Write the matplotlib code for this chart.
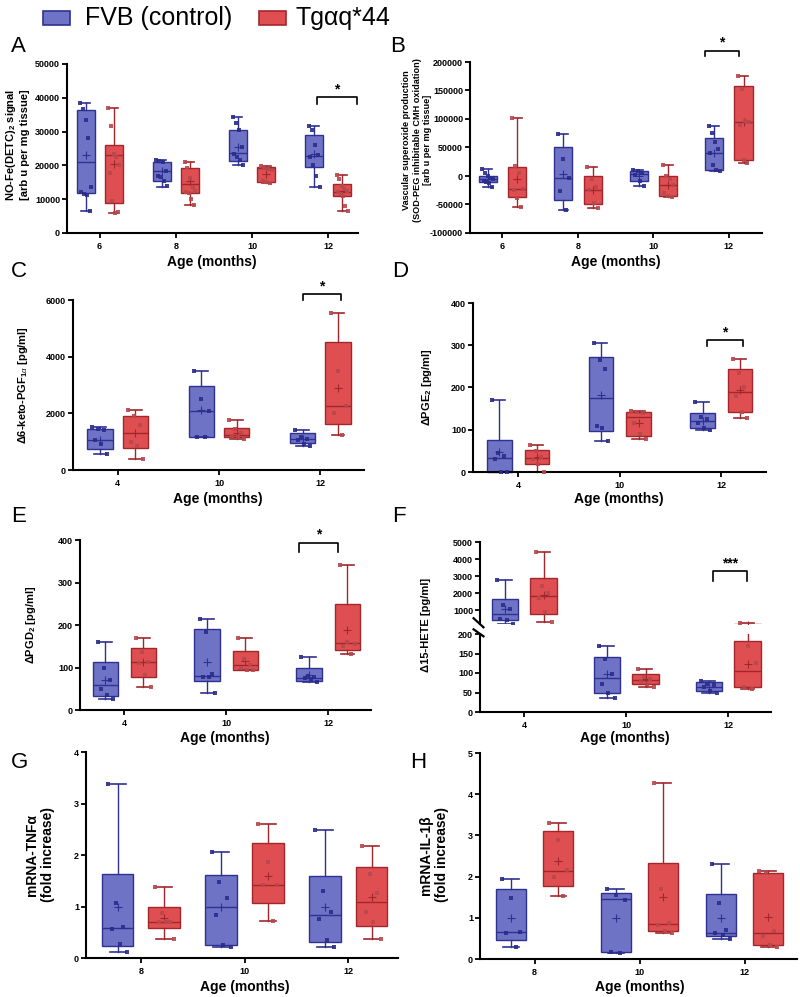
import numpy as np
import matplotlib
matplotlib.use('Agg')
import matplotlib.pyplot as plt
from matplotlib.patches import Rectangle

plt.rcParams['font.family'] = ['Liberation Sans', 'DejaVu Sans']
plt.rcParams['mathtext.fontset'] = 'custom'
plt.rcParams['mathtext.rm'] = 'Liberation Sans:bold'
plt.rcParams['mathtext.bf'] = 'Liberation Sans:bold'
plt.rcParams['mathtext.it'] = 'Liberation Sans:italic'

W, H = 800, 997

series = ['FVB (control)', 'Tgαq*44']
ages_AB = ['6', '8', '10', '12']
ages_CF = ['4', '10', '12']
ages_GH = ['8', '10', '12']

# box stats: [whislo, q1, median, q3, whishi, mean]
A_ctrl_box = [[6500, 11700, 21000, 36300, 38500, 23000], [13600, 15300, 18300, 21000, 21500, 18300],
              [20000, 21300, 23800, 30500, 34300, 25500], [13600, 19400, 22800, 29100, 31800, 23300]]
A_tg_box = [[6000, 8800, 23000, 26000, 37000, 20300], [8300, 11800, 14500, 19300, 21000, 15500],
            [14700, 15000, 19200, 19500, 19700, 17500], [6500, 11000, 12000, 14600, 17300, 12500]]
A_ctrl_pts = [[38500, 36800, 33500, 28000, 13700, 12000, 11500, 11300, 6500],
              [21500, 21300, 20900, 18200, 17000, 16500, 15500, 13800],
              [34300, 32500, 30500, 25500, 23500, 22500, 21500, 20000],
              [31800, 30500, 26000, 23000, 22500, 20000, 17000, 13600]]
A_tg_pts = [[37000, 31800, 23500, 22500, 20000, 17800, 9500, 6000, 6200],
            [21000, 19300, 16300, 13500, 12500, 12000, 11800, 10000, 8300],
            [19700, 19300, 19000, 18500, 15300, 15000, 14800],
            [17300, 16000, 14000, 13000, 12500, 12000, 11500, 11000, 8000, 6500]]

B_ctrl_box = [[-20000, -10000, -5000, 0, 12000, -5000], [-59000, -42000, -4000, 51000, 73000, 3000],
              [-18000, -9000, 3000, 8000, 11000, 0], [8000, 10000, 40000, 67000, 87000, 40000]]
B_tg_box = [[-55000, -37000, -22000, 16000, 102000, -5000], [-57000, -50000, -25000, 0, 15000, -25000],
            [-37000, -35000, -16000, 0, 19000, -15000], [23000, 28000, 95000, 158000, 175000, 95000]]
B_ctrl_pts = [[12000, 5000, 0, -3000, -5000, -8000, -10000, -12000, -20000],
              [73000, 30000, -4000, -27000, -59000],
              [11000, 8000, 5000, 2000, -8000, -18000],
              [87000, 75000, 60000, 47000, 40000, 20000, 10000, 8000]]
B_tg_pts = [[102000, 18000, 5000, -22000, -25000, -38000, -55000],
            [15000, -5000, -20000, -25000, -48000, -57000],
            [19000, 0, -5000, -16000, -30000, -35000, -37000],
            [175000, 153000, 97000, 95000, 90000, 28000, 23000]]

C_ctrl_box = [[560, 750, 1070, 1450, 1500, 1050], [1150, 1180, 2080, 2980, 3500, 2100], [850, 950, 1100, 1300, 1420, 1100]]
C_tg_box = [[380, 770, 1300, 1920, 2100, 1300], [1100, 1150, 1250, 1480, 1750, 1300], [1220, 1620, 2250, 4520, 5550, 2900]]
C_ctrl_pts = [[1500, 1450, 1400, 1050, 900, 560], [3500, 2500, 2080, 1180, 1150], [1420, 1150, 1100, 1050, 900, 850]]
C_tg_pts = [[2100, 1900, 1600, 1000, 850, 380], [1750, 1450, 1300, 1200, 1150, 1100], [5550, 3500, 2250, 2000, 1220]]

D_ctrl_box = [[0, 0, 33, 75, 170, 47], [73, 97, 176, 273, 305, 183], [100, 103, 121, 139, 166, 120]]
D_tg_box = [[0, 20, 33, 53, 65, 35], [77, 85, 130, 143, 145, 117], [127, 141, 190, 243, 268, 195]]
D_ctrl_pts = [[170, 45, 38, 30, 0, 0], [305, 265, 243, 110, 103, 73], [166, 130, 125, 115, 103, 100]]
D_tg_pts = [[65, 50, 35, 30, 20, 0], [145, 142, 140, 115, 90, 77], [268, 235, 200, 180, 141, 127]]

E_ctrl_box = [[25, 32, 58, 113, 160, 70], [40, 68, 79, 190, 215, 113], [65, 68, 75, 100, 124, 82]]
E_tg_box = [[55, 77, 113, 145, 170, 113], [93, 95, 105, 140, 170, 115], [132, 142, 158, 250, 342, 188]]
E_ctrl_pts = [[160, 100, 70, 50, 35, 25], [215, 183, 85, 77, 77, 40], [124, 80, 77, 75, 73, 65]]
E_tg_pts = [[170, 137, 113, 110, 82, 55], [170, 120, 105, 100, 95, 93], [342, 160, 155, 150, 132]]

F_ctrl_box = [[220, 450, 800, 1650, 2800, 1100], [36, 50, 87, 142, 168, 98], [48, 55, 65, 76, 80, 65]]
F_tg_box = [[300, 780, 1830, 2880, 4400, 1900], [65, 72, 82, 98, 110, 85], [58, 63, 105, 182, 250, 122]]
F_ctrl_pts = [[2800, 1300, 1050, 500, 450, 220], [168, 135, 98, 72, 50, 36], [80, 72, 70, 65, 55, 48]]
F_tg_pts = [[4400, 2400, 2000, 1700, 900, 300], [110, 90, 85, 80, 72, 65], [250, 170, 125, 63, 58]]

G_ctrl_box = [[0.12, 0.24, 0.58, 1.63, 3.37, 1.0], [0.21, 0.25, 1.0, 1.61, 2.06, 1.0], [0.21, 0.32, 0.83, 1.6, 2.48, 1.0]]
G_tg_box = [[0.37, 0.58, 0.70, 0.99, 1.38, 0.77], [0.71, 1.06, 1.41, 2.23, 2.6, 1.6], [0.37, 0.63, 1.09, 1.76, 2.17, 1.18]]
G_ctrl_pts = [[3.37, 1.06, 0.6, 0.57, 0.27, 0.12], [2.06, 1.47, 1.16, 0.84, 0.26, 0.21], [2.48, 1.31, 0.9, 0.76, 0.35, 0.21]]
G_tg_pts = [[1.38, 0.87, 0.7, 0.7, 0.7, 0.37], [2.6, 1.87, 1.41, 1.41, 0.71], [2.17, 1.64, 1.26, 0.9, 0.7, 0.37]]

H_ctrl_box = [[0.29, 0.47, 0.65, 1.7, 1.93, 1.0], [0.15, 0.17, 1.45, 1.61, 1.69, 1.0], [0.49, 0.55, 0.63, 1.58, 2.3, 1.0]]
H_tg_box = [[1.54, 1.78, 2.14, 3.1, 3.31, 2.37], [0.63, 0.68, 0.86, 2.33, 4.26, 1.5], [0.29, 0.33, 0.63, 2.09, 2.14, 1.02]]
H_ctrl_pts = [[1.93, 1.49, 0.65, 0.63, 0.29], [1.69, 1.55, 1.44, 0.18, 0.15], [2.3, 1.35, 0.7, 0.63, 0.58, 0.49]]
H_tg_pts = [[3.31, 2.9, 2.15, 2.0, 1.54], [4.26, 1.7, 0.88, 0.83, 0.68, 0.63], [2.14, 2.08, 0.68, 0.55, 0.35, 0.29]]

# ---------- styling ----------
BLUE_FACE, BLUE_EDGE, BLUE_PT = '#6f73c6', '#2f3192', '#2a2c8c'
RED_FACE, RED_EDGE, RED_PT = '#df4f52', '#a2272c', '#b7484c'

fig = plt.figure(figsize=(W / 100, H / 100), dpi=100)


def add_ax(x0, x1, ytop, ybot):
    return fig.add_axes([x0 / W, 1 - ybot / H, (x1 - x0) / W, (ybot - ytop) / H])


def draw_boxes(ax, ctrl_box, tg_box, ctrl_pts, tg_pts, off, w, clip=False, lo=None, hi=None):
    n = len(ctrl_box)
    for boxes, pts, sgn, face, edge, ptc in [(ctrl_box, ctrl_pts, -1, BLUE_FACE, BLUE_EDGE, BLUE_PT),
                                             (tg_box, tg_pts, 1, RED_FACE, RED_EDGE, RED_PT)]:
        keep = [i for i in range(n)
                if (lo is None or boxes[i][4] >= lo) and (hi is None or boxes[i][0] <= hi)]
        if not keep:
            continue
        stats = [dict(whislo=boxes[i][0], q1=boxes[i][1], med=boxes[i][2], q3=boxes[i][3],
                      whishi=boxes[i][4], mean=boxes[i][5], fliers=[]) for i in keep]
        pos = [i + sgn * off for i in keep]
        art = ax.bxp(stats, positions=pos, widths=w, capwidths=w * 0.5, patch_artist=True,
                     showmeans=True, showfliers=False, manage_ticks=False,
                     boxprops=dict(facecolor=face, edgecolor=edge, linewidth=1.0),
                     medianprops=dict(color=edge, linewidth=1.0),
                     whiskerprops=dict(color=edge, linewidth=1.0),
                     capprops=dict(color=edge, linewidth=1.2),
                     meanprops=dict(marker='+', markeredgecolor=edge, markersize=6, markeredgewidth=0.8))
        for key in art:
            for a in art[key]:
                a.set_clip_on(clip)
        for j, i in enumerate(keep):
            p = pts[i]
            k = len(p)
            base = np.linspace(-0.3, 0.3, k) * w
            idx = list(range(0, k, 2)) + list(range(1, k, 2))
            xs = pos[j] + base[idx]
            sel = [m for m in range(k) if (lo is None or p[m] >= lo) and (hi is None or p[m] <= hi)]
            ax.plot(xs[sel], np.array(p)[sel], 's', color=ptc, ms=3.3, alpha=0.9, zorder=4,
                    clip_on=clip, markeredgewidth=0)


def style(ax, xlim, ylim, yticks, xlabels, show_x=True):
    for s in ['top', 'right']:
        ax.spines[s].set_visible(False)
    for s in ['left', 'bottom']:
        ax.spines[s].set_linewidth(1.5)
    ax.set_xlim(*xlim)
    ax.set_ylim(*ylim)
    ax.set_yticks(yticks)
    ax.set_yticklabels([str(t) for t in yticks], fontweight='bold', fontsize=6.5)
    ax.tick_params(axis='both', width=1.3, length=3.5, pad=1.5)
    if show_x:
        ax.set_xticks(range(len(xlabels)))
        ax.set_xticklabels(xlabels, fontweight='bold', fontsize=6.5)
        ax.tick_params(axis='x', pad=3)
    else:
        ax.set_xticks([])
        ax.spines['bottom'].set_visible(False)
    ax.set_facecolor('none')


def bracket(ax, x0, x1, ylo, yhi, txt='*'):
    ax.plot([x0, x0, x1, x1], [ylo, yhi, yhi, ylo], color='black', lw=1.2, clip_on=False)
    ax.annotate(txt, xy=((x0 + x1) / 2, yhi), xytext=(0, 0.5), textcoords='offset points',
                ha='center', va='bottom', fontsize=10, fontweight='bold', annotation_clip=False)


def ylab(x, yc, text, fs):
    fig.text(x / W, 1 - yc / H, text, rotation=90, ha='center', va='center', fontsize=fs,
             fontweight='bold', multialignment='center', linespacing=1.15)


def xlab(xc, y, text='Age (months)'):
    fig.text(xc / W, 1 - y / H, text, ha='center', va='center', fontsize=10, fontweight='bold')


def letter(x, y, t):
    fig.text(x / W, 1 - y / H, t, ha='left', va='top', fontsize=16)


# Panel A
ax = add_ax(67, 358, 64, 233)
draw_boxes(ax, A_ctrl_box, A_tg_box, A_ctrl_pts, A_tg_pts, 0.185, 0.236)
style(ax, (-0.428, 3.39), (0, 50000), [0, 10000, 20000, 30000, 40000, 50000], ages_AB)
bracket(ax, 3 - 0.15, 3 + 0.38, 38200, 40200)
ylab(17, 145, 'NO-Fe(DETC)$_2$ signal\n[arb u per mg tissue]', 8)
xlab(212, 262)
letter(11, 36, 'A')

# Panel B
ax = add_ax(470, 762, 62, 233)
draw_boxes(ax, B_ctrl_box, B_tg_box, B_ctrl_pts, B_tg_pts, 0.195, 0.24)
style(ax, (-0.43, 3.44), (-100000, 200000), [-100000, -50000, 0, 50000, 100000, 150000, 200000], ages_AB)
bracket(ax, 3 - 0.31, 3 + 0.13, 210000, 220000)
ylab(417, 140, 'Vascular superoxide production\n(SOD-PEG inhibitable CMH oxidation)\n[arb u per mg tissue]', 6.6)
xlab(616, 262)
letter(390, 36, 'B')

# Panel C
ax = add_ax(73, 364, 300, 470)
draw_boxes(ax, C_ctrl_box, C_tg_box, C_ctrl_pts, C_tg_pts, 0.175, 0.25)
style(ax, (-0.44, 2.43), (0, 6000), [0, 2000, 4000, 6000], ages_CF)
bracket(ax, 2 - 0.17, 2 + 0.2, 6000, 6211)
ylab(23, 385, 'Δ6-keto-PGF$_{1\\alpha}$ [pg/ml]', 8)
xlab(218, 499)
letter(11, 261, 'C')

# Panel D
ax = add_ax(473, 766, 303, 472)
draw_boxes(ax, D_ctrl_box, D_tg_box, D_ctrl_pts, D_tg_pts, 0.185, 0.24)
style(ax, (-0.445, 2.44), (0, 400), [0, 100, 200, 300, 400], ages_CF)
bracket(ax, 2 - 0.145, 2 + 0.21, 298, 312)
ylab(427, 387, 'ΔPGE$_2$ [pg/ml]', 8)
xlab(619, 499)
letter(392, 261, 'D')

# Panel E
ax = add_ax(80, 371, 540, 710)
draw_boxes(ax, E_ctrl_box, E_tg_box, E_ctrl_pts, E_tg_pts, 0.187, 0.25)
style(ax, (-0.435, 2.42), (0, 400), [0, 100, 200, 300, 400], ages_CF)
bracket(ax, 2 - 0.29, 2 + 0.1, 371, 394)
ylab(31, 625, 'ΔPGD$_2$ [pg/ml]', 8)
xlab(225, 738)
letter(11, 506, 'E')

# Panel F (broken axis)
F_TOP_LO, F_BOT_HI = 200, 200
axt = add_ax(480, 771, 542, 624)
axb = add_ax(480, 771, 634, 712)
draw_boxes(axt, F_ctrl_box, F_tg_box, F_ctrl_pts, F_tg_pts, 0.19, 0.26, clip=True, lo=F_TOP_LO)
draw_boxes(axb, F_ctrl_box, F_tg_box, F_ctrl_pts, F_tg_pts, 0.19, 0.26, clip=True, hi=F_BOT_HI)
style(axt, (-0.435, 2.42), (200, 5000), [1000, 2000, 3000, 4000, 5000], ages_CF, show_x=False)
style(axb, (-0.435, 2.42), (0, 200), [0, 50, 100, 150, 200], ages_CF)
bracket(axt, 2 - 0.15, 2 + 0.18, 2700, 3320, '***')
# break marks on the y axis
axt.plot([-0.022, 0.012], [0.07, -0.04], transform=axt.transAxes, color='black', lw=1.6, clip_on=False)
axb.plot([-0.022, 0.012], [1.06, 0.97], transform=axb.transAxes, color='black', lw=1.6, clip_on=False)
ylab(426, 625, 'Δ15-HETE [pg/ml]', 8)
xlab(625, 738)
letter(392, 506, 'F')

# Panel G
ax = add_ax(86, 398, 752, 958)
draw_boxes(ax, G_ctrl_box, G_tg_box, G_ctrl_pts, G_tg_pts, 0.225, 0.305)
style(ax, (-0.53, 2.48), (0, 4), [0, 1, 2, 3, 4], ages_GH)
ylab(40, 855, 'mRNA-TNFα\n(fold increase)', 10)
xlab(245, 987)
letter(11, 752, 'G')

# Panel H
ax = add_ax(480, 797, 753, 959)
draw_boxes(ax, H_ctrl_box, H_tg_box, H_ctrl_pts, H_tg_pts, 0.225, 0.29)
style(ax, (-0.52, 2.5), (0, 5), [0, 1, 2, 3, 4, 5], ages_GH)
ylab(434, 855, 'mRNA-IL-1β\n(fold increase)', 10)
xlab(640, 987)
letter(410, 752, 'H')

# Legend
for (x0, face, edge), label, tx in zip([(43, BLUE_FACE, BLUE_EDGE), (259, RED_FACE, RED_EDGE)], series, [85, 295]):
    fig.patches.append(Rectangle((x0 / W, 1 - 25 / H), 27 / W, 14 / H, transform=fig.transFigure,
                                 facecolor=face, edgecolor=edge, linewidth=1.2))
    fig.text(tx / W, 1 - 18 / H, label, ha='left', va='center', fontsize=18)

fig.savefig('out.png', dpi=100)
